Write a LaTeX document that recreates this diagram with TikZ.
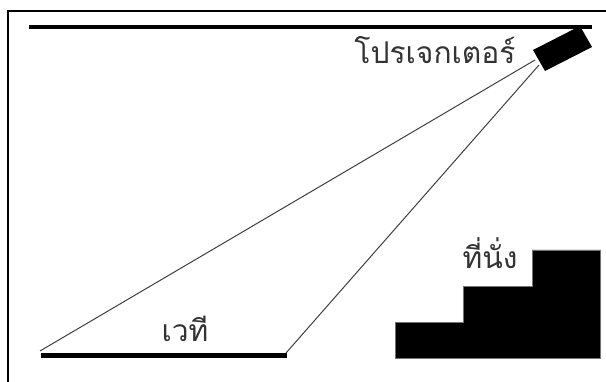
\documentclass[tikz,border=0pt]{standalone}
\usepackage{fontspec}
\newfontfamily\thaifont[Script=Thai]{Loma}
\begin{document}
\begin{tikzpicture}[x=1pt,y=-1pt,
  frame/.style={line width=2pt,black},
  ray/.style={line width=1pt,black!75},
  lbl/.style={inner sep=0pt,font=\thaifont\fontsize{30}{32}\selectfont,text=black!80},
  solid box/.style={fill=black,draw=black!55,line width=0.6pt}]
\useasboundingbox (0,0) rectangle (606,382);
\fill[white] (0,0) rectangle (606,382);
\draw[frame] (8.3,382) -- (8.3,11) -- (606,11);
\coordinate (ceilL) at (29,27);
\coordinate (ceilR) at (592,27);
\draw[line width=4pt] (ceilL) -- (ceilR);
\coordinate (stageL) at (41,355.5);
\coordinate (stageR) at (287,355.5);
\draw[line width=5pt] (stageL) -- (stageR);
\fill (533,50) -- (580,26) -- (592,47) -- (545,71) -- cycle;
\coordinate (lensA) at (535,60);
\coordinate (lensB) at (539,65);
\draw[ray] (lensA) -- (40,351);
\draw[ray] (lensB) -- (286,353);
\node[lbl] (proj) at (435,50) {โปรเจกเตอร์};
\node[lbl] (stage) at (185,328.5) {เวที};
\node[lbl] (seat) at (490,253.5) {ที่นั่ง};
\draw[solid box] (395,358) -- (395,322.5) -- (463.5,322.5) -- (463.5,286.5) -- (532,286.5) -- (532,250) -- (600.5,250) -- (600.5,358) -- cycle;
\end{tikzpicture}
\end{document}
